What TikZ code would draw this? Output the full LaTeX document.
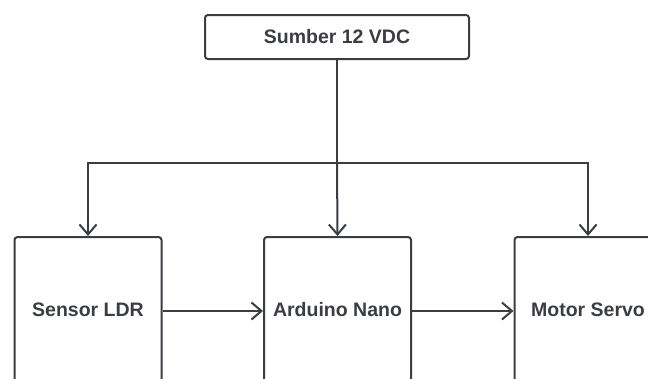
\documentclass[tikz,border=0pt]{standalone}
\usepackage{fontspec}
\setmainfont{Liberation Sans}
\usetikzlibrary{arrows.meta}
\definecolor{ink}{HTML}{3A3D42}
\begin{document}
\begin{tikzpicture}[x=1pt,y=-1pt,
  blk/.style={draw=ink, line width=2pt, rounded corners=3pt, fill=white,
    text=ink, font=\fontsize{19.5}{23}\selectfont\bfseries, inner sep=0pt},
  conn/.style={draw=ink, line width=2pt, -{Straight Barb[length=10pt,width=17pt,line width=2pt]}}]
\useasboundingbox (0,0) rectangle (648,378);
\clip (0,0) rectangle (648,378);
\fill[white] (0,0) rectangle (648,378);
\node[blk, minimum width=264pt, minimum height=44pt] (src) at (337,37) {Sumber 12 VDC};
\node[blk, minimum width=147pt, minimum height=146pt] (ldr) at (88,310) {Sensor LDR};
\node[blk, minimum width=147pt, minimum height=146pt] (ard) at (337.5,310) {Arduino Nano};
\node[blk, minimum width=147pt, minimum height=146pt] (srv) at (588,310) {Motor Servo};
\coordinate (j) at (337,163);
\draw[draw=ink, line width=2pt] (src.south) -- (j);
\draw[conn] (j) -- (ard.north);
\draw[conn] (j) -| (ldr.north);
\draw[conn] (j) -| (srv.north);
\draw[conn] (ldr.east |- 0,311) -- (ard.west |- 0,311);
\draw[conn] (ard.east |- 0,311) -- (srv.west |- 0,311);
\end{tikzpicture}
\end{document}
